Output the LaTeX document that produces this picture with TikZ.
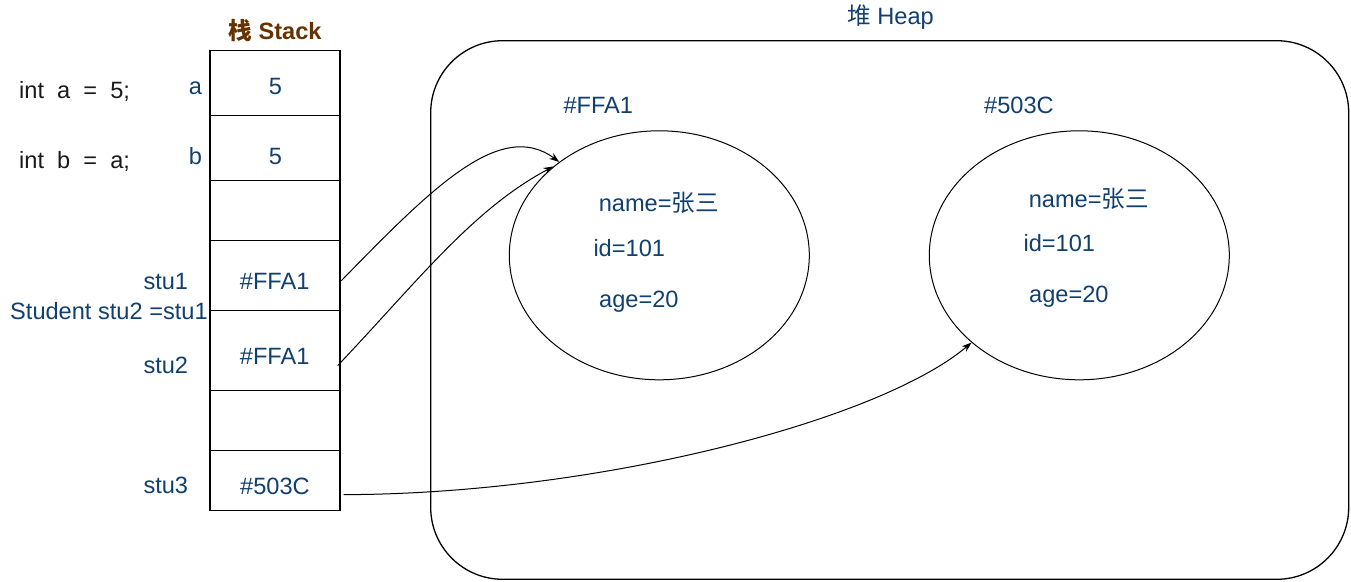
\documentclass[tikz,border=0pt]{standalone}
\usepackage{fontspec}
\setmainfont{Liberation Sans}
\newfontfamily\cjk{Noto Sans CJK SC}
\usetikzlibrary{arrows.meta,shapes.geometric,calc}
\definecolor{txtblue}{HTML}{11406F}
\definecolor{stackbrown}{HTML}{663300}
\definecolor{codegray}{HTML}{1A1A1A}
\begin{document}
\begin{tikzpicture}[x=1pt,y=-1pt,
  lbl/.style={inner sep=0pt, text height=16.9pt, text depth=0pt, font=\fontsize{23.6}{28}\selectfont, text=txtblue},
  code/.style={lbl, text=codegray, anchor=west},
  cell/.style={draw, line width=1.3pt, minimum width=130pt, inner sep=0pt, anchor=north},
  obj/.style={draw, ellipse, line width=1pt, minimum width=300pt, minimum height=249pt, inner sep=0pt},
  ptr/.style={line width=1pt, -{Stealth[length=10pt,width=7pt]}},
]
\useasboundingbox (0,0) rectangle (1351,581);
% heap region
\node[draw, line width=1.3pt, rounded corners=72pt, minimum width=918pt, minimum height=538.6pt, inner sep=0pt] (heap) at (889.7,310) {};
\node[lbl] (heapt) at (890.5,16) {{\cjk 堆} Heap};
% stack cells
\node[cell, minimum height=65pt] (c1) at (275,50) {};
\node[cell, minimum height=65pt] (c2) at (275,115) {};
\node[cell, minimum height=60pt] (c3) at (275,180) {};
\node[cell, minimum height=70pt] (c4) at (275,240) {};
\node[cell, minimum height=80pt] (c5) at (275,310) {};
\node[cell, minimum height=60pt] (c6) at (275,390) {};
\node[cell, minimum height=60pt] (c7) at (275,450) {};
\node[lbl, text=stackbrown, font=\fontsize{23.6}{28}\selectfont\bfseries] (stackt) at (275,31) {{\cjk\bfseries 栈} Stack};
% values in stack
\node[lbl] (v1) at (275.5,86) {5};
\node[lbl] (v2) at (275.5,156) {5};
\node[lbl] (v4) at (274.7,281.3) {\#FFA1};
\node[lbl] (v5) at (274.7,356.3) {\#FFA1};
\node[lbl] (v7) at (275,486) {\#503C};
% variable labels
\node[lbl] (la) at (195.5,86) {a};
\node[lbl] (lb) at (195.5,156) {b};
\node[lbl, anchor=west] (ls1) at (143.3,281) {stu1};
\node[lbl, anchor=west] (lst) at (10,311) {Student stu2 =stu1};
\node[lbl, anchor=west] (ls2) at (143.3,365) {stu2};
\node[lbl, anchor=west] (ls3) at (143.3,485) {stu3};
% code
\node[code] (codea) at (19,90) {int~~a~~=~~5;};
\node[code] (codeb) at (19,160) {int~~b~~=~~a;};
% objects
\node[obj] (e1) at (659.3,255.3) {};
\node[obj] (e2) at (1079.3,255.3) {};
\node[lbl] (addr1) at (598.3,105.5) {\#FFA1};
\node[lbl] (addr2) at (1019,105) {\#503C};
\node[lbl] (n1) at (658.8,203.5) {name={\cjk 张三}};
\node[lbl, anchor=west] (i1) at (593.3,248.3) {id=101};
\node[lbl, anchor=west] (g1) at (599,298.8) {age=20};
\node[lbl] (n2) at (1088.8,199) {name={\cjk 张三}};
\node[lbl, anchor=west] (i2) at (1023.3,243.3) {id=101};
\node[lbl, anchor=west] (g2) at (1029,294.5) {age=20};
% pointers
\draw[ptr] ($(c4.east)+(0.7,5)$) .. controls (430,190) and (500,118) .. (e1.137.5);
\draw[ptr] ($(c5.east)+(-3,15)$) .. controls (417,282) and (473,209) .. (e1.140.3);
\draw[ptr] ($(c7.east)+(3,14)$) .. controls (600,494) and (880,420) .. (e2.219.9);
\end{tikzpicture}
\end{document}
